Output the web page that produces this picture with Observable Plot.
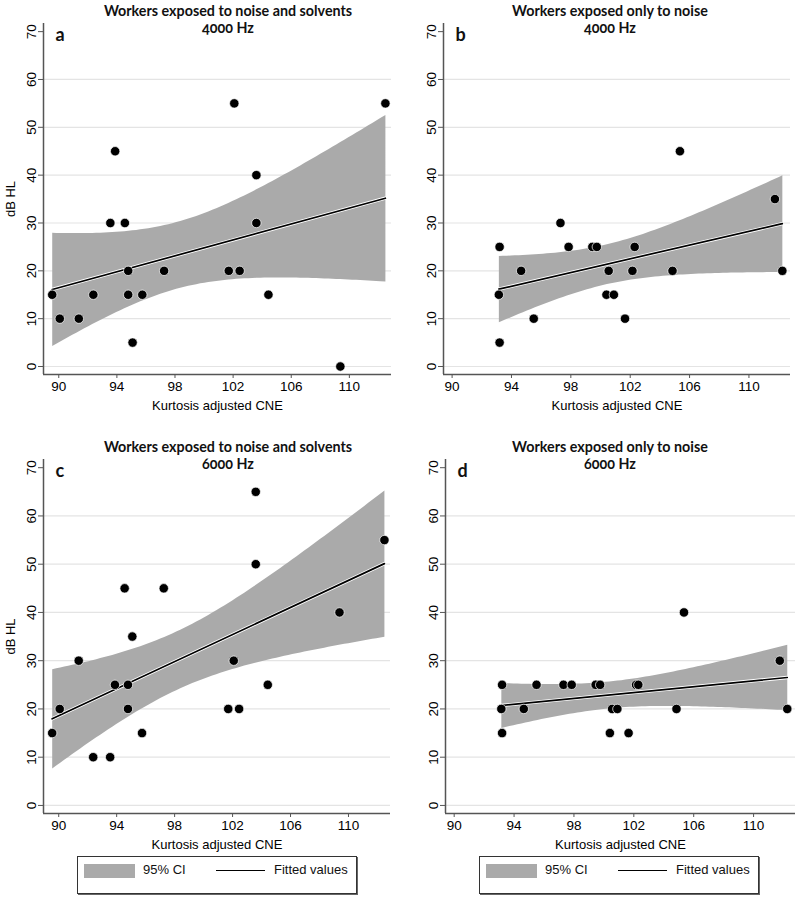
<!DOCTYPE html>
<html><head><meta charset="utf-8">
<script src="https://cdn.jsdelivr.net/npm/d3@7"></script>
<script src="https://cdn.jsdelivr.net/npm/@observablehq/plot@0.6"></script>
<style>
body{margin:0;background:#fff;}
#root{position:relative;width:802px;height:900px;overflow:hidden;font-family:"Liberation Sans",Arial,sans-serif;background:#fff;}
.panel{position:absolute;}
.panel g[aria-label="x-axis label"] text, .panel g[aria-label="y-axis label"] text{font-size:13px;}
.title{position:absolute;font-family:Lato,"Open Sans",sans-serif;font-weight:bold;font-size:14.3px;text-align:center;line-height:16.5px;font-variant-numeric:oldstyle-nums;font-feature-settings:"onum" 1;color:#111;transform:translateX(-50%);white-space:nowrap;}
.legend{position:absolute;border:1px solid #333;box-shadow:1px 1px 0 #666;box-sizing:border-box;width:280px;height:38px;background:#fff;font-size:13px;color:#111;}
.legend .sw{position:absolute;left:6px;top:7px;width:51px;height:14px;background:#aaaaaa;}
.legend .t1{position:absolute;left:65px;top:5px;line-height:16px;}
.legend .ln{position:absolute;left:138px;top:13px;width:49px;height:0;border-top:1.6px solid #000;}
.legend .t2{position:absolute;left:196px;top:5px;line-height:16px;}
</style></head>
<body><div id="root"></div>
<script>
// ---- data ----
const xTicks = [90, 94, 98, 102, 106, 110];
const yTicks = [0, 10, 20, 30, 40, 50, 60, 70];
const gridTicks = [0, 10, 20, 30, 40, 50, 60];
const titles = ["Workers exposed to noise and solvents", "Workers exposed only to noise"];
const freqs = ["4000 Hz", "6000 Hz"];
const letters = ["a", "b", "c", "d"];
const legendLabels = ["95% CI", "Fitted values"];

// Workers exposed to noise and solvents (same workers in panels a and c)
const solventsCNE = [89.55, 90.07, 91.38, 92.38, 93.55, 93.88, 94.55, 94.78, 94.78, 95.08, 95.75, 97.25, 101.7, 102.08, 102.45, 103.6, 103.6, 104.43, 109.38, 112.48];
const solvents4000 = [15, 10, 10, 15, 30, 45, 30, 20, 15, 5, 15, 20, 20, 55, 20, 30, 40, 15, 0, 55];
const solvents6000 = [15, 20, 30, 10, 10, 25, 45, 25, 20, 35, 15, 45, 20, 30, 20, 65, 50, 25, 40, 55];

// Workers exposed only to noise (same workers in panels b and d)
const noiseCNE = [93.15, 93.2, 93.2, 94.65, 95.5, 97.3, 97.85, 99.45, 99.75, 100.4, 100.55, 100.9, 101.65, 102.15, 102.3, 104.85, 105.35, 111.75, 112.25];
const noise4000 = [15, 25, 5, 20, 10, 30, 25, 25, 25, 15, 20, 15, 10, 20, 25, 20, 45, 35, 20];
const noise6000 = [20, 25, 15, 20, 25, 25, 25, 25, 25, 15, 20, 20, 15, 25, 25, 20, 40, 30, 20];

// ---- drawing ----
const root = document.getElementById("root");
const yDomain = [-1.67, 71.7];
const CI_FILL = "#aaaaaa";

function panel({cne, hl, xDomain, left, top, width, height, mt, mr, mb, ml, letter, yLabel}) {
  const data = cne.map((x, i) => ({x, y: hl[i]}));
  const svg = Plot.plot({
    width, height,
    marginTop: mt, marginRight: mr, marginBottom: mb, marginLeft: ml,
    x: {domain: xDomain},
    y: {domain: yDomain},
    style: {fontFamily: "'Liberation Sans', Arial, sans-serif", fontSize: "13px", color: "#000", background: "white", overflow: "visible"},
    marks: [
      Plot.gridY(gridTicks, {stroke: "#e4e4e4", strokeOpacity: 1, strokeWidth: 1.2}),
      Plot.linearRegressionY(data, {x: "x", y: "y", ci: 0.95, fill: CI_FILL, fillOpacity: 1, stroke: "none"}),
      Plot.linearRegressionY(data, {x: "x", y: "y", ci: 0, stroke: "white", strokeWidth: 3.4}),
      Plot.linearRegressionY(data, {x: "x", y: "y", ci: 0, stroke: "black", strokeWidth: 1.7}),
      Plot.dot(data, {x: "x", y: "y", r: 4.7, fill: "black", stroke: "white", strokeWidth: 0.7}),
      Plot.ruleX([xDomain[0]], {stroke: "#555", strokeWidth: 1.5}),
      Plot.ruleY([yDomain[0]], {stroke: "#555", strokeWidth: 1.5}),
      Plot.axisX({ticks: xTicks, tickSize: 4, tickPadding: 3, stroke: "#555", fill: "#000", fontSize: 13.5,
        label: "Kurtosis adjusted CNE", labelAnchor: "center", labelOffset: 35, labelArrow: "none"}),
      Plot.axisY({ticks: yTicks, tickSize: 5, tickPadding: 3, tickRotate: -90, stroke: "#555", fill: "#000", fontSize: 13.5,
        label: yLabel, labelAnchor: "center", labelOffset: 38, labelArrow: "none"}),
      Plot.text([letter], {frameAnchor: "top-left", dx: 12, dy: 5, lineAnchor: "top", textAnchor: "start",
        fontSize: 18, fontWeight: "bold", fontFamily: "Lato, 'Open Sans', sans-serif", fill: "#111"})
    ]
  });
  svg.classList.add("panel");
  svg.style.left = left + "px";
  svg.style.top = top + "px";
  root.appendChild(svg);
}

function title(cx, top, line1, line2) {
  const d = document.createElement("div");
  d.className = "title";
  d.style.left = cx + "px";
  d.style.top = top + "px";
  d.innerHTML = line1 + "<br>" + line2;
  root.appendChild(d);
}

function legend(left, top) {
  const d = document.createElement("div");
  d.className = "legend";
  d.style.left = left + "px";
  d.style.top = top + "px";
  d.innerHTML = `<div class="sw"></div><div class="t1">${legendLabels[0]}</div><div class="ln"></div><div class="t2">${legendLabels[1]}</div>`;
  root.appendChild(d);
}

const domA = [88.95, 112.9];
const domB = [89.42, 112.8];

panel({cne: solventsCNE, hl: solvents4000, xDomain: domA, left: 0, top: 0, width: 401, height: 415, mt: 23, mr: 10, mb: 41, ml: 43, letter: letters[0], yLabel: "dB HL"});
panel({cne: noiseCNE, hl: noise4000, xDomain: domB, left: 400, top: 0, width: 402, height: 415, mt: 23, mr: 12, mb: 41, ml: 43, letter: letters[1], yLabel: null});
panel({cne: solventsCNE, hl: solvents6000, xDomain: domA, left: 0, top: 420, width: 401, height: 430, mt: 39, mr: 11, mb: 37, ml: 43, letter: letters[2], yLabel: "dB HL"});
panel({cne: noiseCNE, hl: noise6000, xDomain: domB, left: 400, top: 420, width: 402, height: 430, mt: 39, mr: 7, mb: 37, ml: 45, letter: letters[3], yLabel: null});

title(228, 3, titles[0], freqs[0]);
title(610, 3, titles[1], freqs[0]);
title(228, 439, titles[0], freqs[1]);
title(610, 439, titles[1], freqs[1]);

legend(77, 856);
legend(479, 856);
</script>
</body></html>
